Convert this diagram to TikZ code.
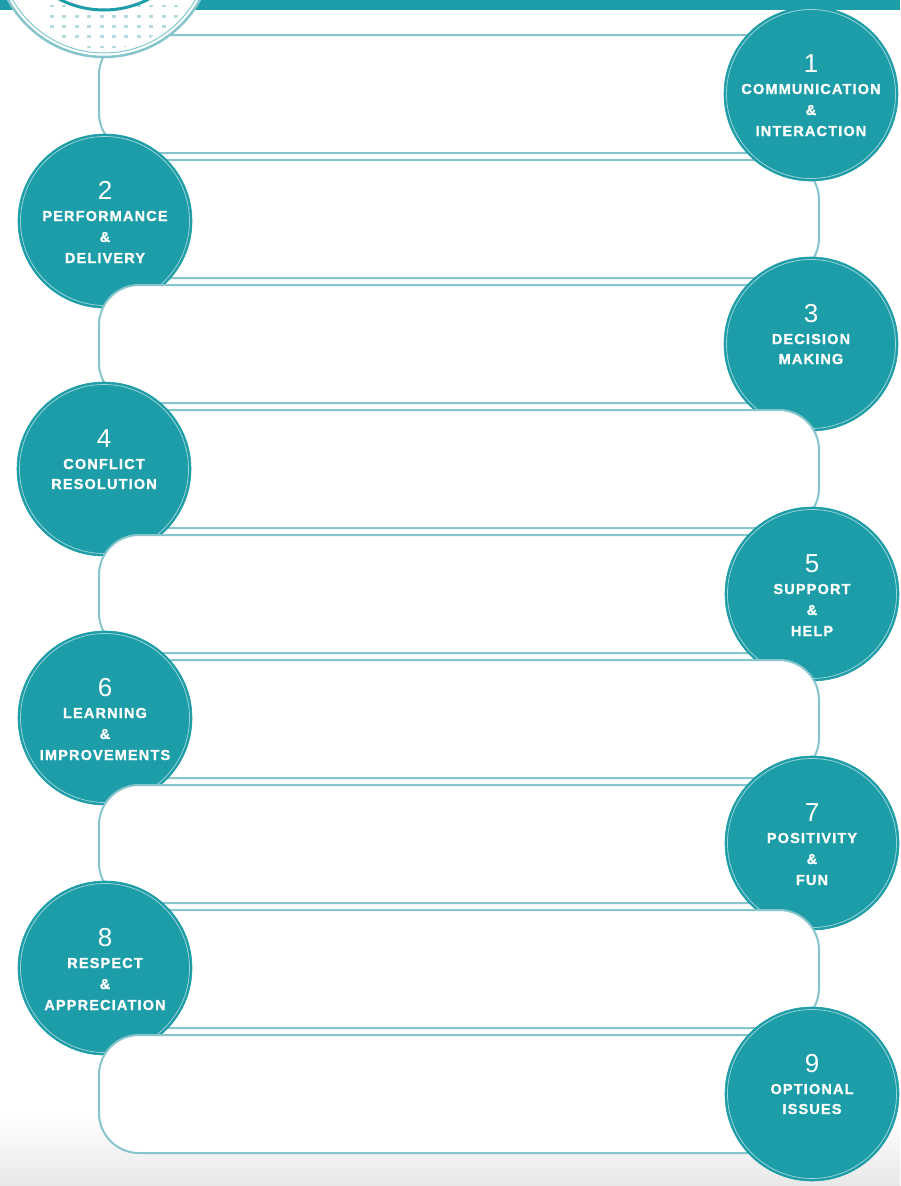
\documentclass[tikz,border=0pt]{standalone}
\usepackage{fontspec}
\setmainfont{Liberation Sans}
\newfontfamily\labfont[LetterSpace=8,FakeBold=1.2]{Liberation Sans Bold}
\usetikzlibrary{calc}
\definecolor{teal1}{HTML}{1C9DA7}
\definecolor{bline}{HTML}{86C5CB}
\definecolor{dotc}{HTML}{B2DCE0}
\tikzset{
  band/.style={draw=bline, line width=2pt, fill=white, rounded corners=40pt},
  bubble/.style={circle, fill=teal1, draw=teal1, line width=0.6pt, minimum size=174pt, inner sep=0pt},
  numtxt/.style={text=white, font=\fontsize{26}{26}\selectfont, anchor=base, inner sep=0pt},
  labtxt/.style={text=white, font=\labfont\fontsize{14.5}{15}\selectfont, anchor=base, inner sep=0pt},
  glint/.style={white, opacity=0.55, line width=0.8pt}
}
\newcommand\bubblethree[7]{%
  \node[bubble] (#1) at (#2,#3) {};
  \draw[glint] (#1.center) circle (84.5);
  \node[numtxt] (#1n) at ($(#1.center)+(0,-21.5)$) {#4};
  \node[labtxt] (#1a) at ($(#1.center)+(0,0)$) {#5};
  \node[labtxt] (#1b) at ($(#1.center)+(0,21)$) {#6};
  \node[labtxt] (#1c) at ($(#1.center)+(0,42)$) {#7};
}
\newcommand\bubbletwo[6]{%
  \node[bubble] (#1) at (#2,#3) {};
  \draw[glint] (#1.center) circle (84.5);
  \node[numtxt] (#1n) at ($(#1.center)+(0,-21.5)$) {#4};
  \node[labtxt] (#1a) at ($(#1.center)+(0,0)$) {#5};
  \node[labtxt] (#1b) at ($(#1.center)+(0,20)$) {#6};
}
\newcommand\bandodd[1]{\draw[band] (99,{35+125*(#1-1)}) rectangle (811,{153+125*(#1-1)});}
\newcommand\bandeven[1]{\draw[band] (105,{35+125*(#1-1)}) rectangle (819,{153+125*(#1-1)});}
\begin{document}
\begin{tikzpicture}[x=1pt,y=-1pt]
\useasboundingbox (0,0) rectangle (900,1186);
\fill[white] (0,0) rectangle (900,1186);
\shade[top color=white, bottom color=black!9] (0,1115) rectangle (900,1186);
% top bar
\fill[teal1] (0,0) rectangle (900,10);
% bands 2 and 1 (under circle 1 and top circle)
\bandeven{2}
\bandodd{1}
% top logo circle
\node[circle, fill=white, draw=bline, line width=2.5pt, minimum size=218pt, inner sep=0pt] (top) at (104,-52) {};
\draw[teal1!55, line width=1pt] (top.center) circle (105);
\begin{scope}
  \clip (top.center) circle (101);
  \foreach \r in {0,...,4}
    \foreach \c in {0,...,10}
      \fill[dotc] ({52+12.4*\c-2},{6+10.2*\r-1.2}) rectangle ++(4,2.5);
\end{scope}
\draw[teal1, line width=3pt, fill=white] (104,-87) circle (97);
% circles and bands in stacking order
\bubblethree{c1}{811}{94}{1}{COMMUNICATION}{\&}{INTERACTION}
\bubblethree{c2}{105}{221}{2}{PERFORMANCE}{\&}{DELIVERY}
\bandodd{3}
\bubbletwo{c3}{811}{344}{3}{DECISION}{MAKING}
\bandeven{4}
\bubbletwo{c4}{104}{469}{4}{CONFLICT}{RESOLUTION}
\bandodd{5}
\bubblethree{c5}{812}{594}{5}{SUPPORT}{\&}{HELP}
\bandeven{6}
\bubblethree{c6}{105}{718}{6}{LEARNING}{\&}{IMPROVEMENTS}
\bandodd{7}
\bubblethree{c7}{812}{843}{7}{POSITIVITY}{\&}{FUN}
\bandeven{8}
\bubblethree{c8}{105}{968}{8}{RESPECT}{\&}{APPRECIATION}
\bandodd{9}
\bubbletwo{c9}{812}{1094}{9}{OPTIONAL}{ISSUES}
\end{tikzpicture}
\end{document}
